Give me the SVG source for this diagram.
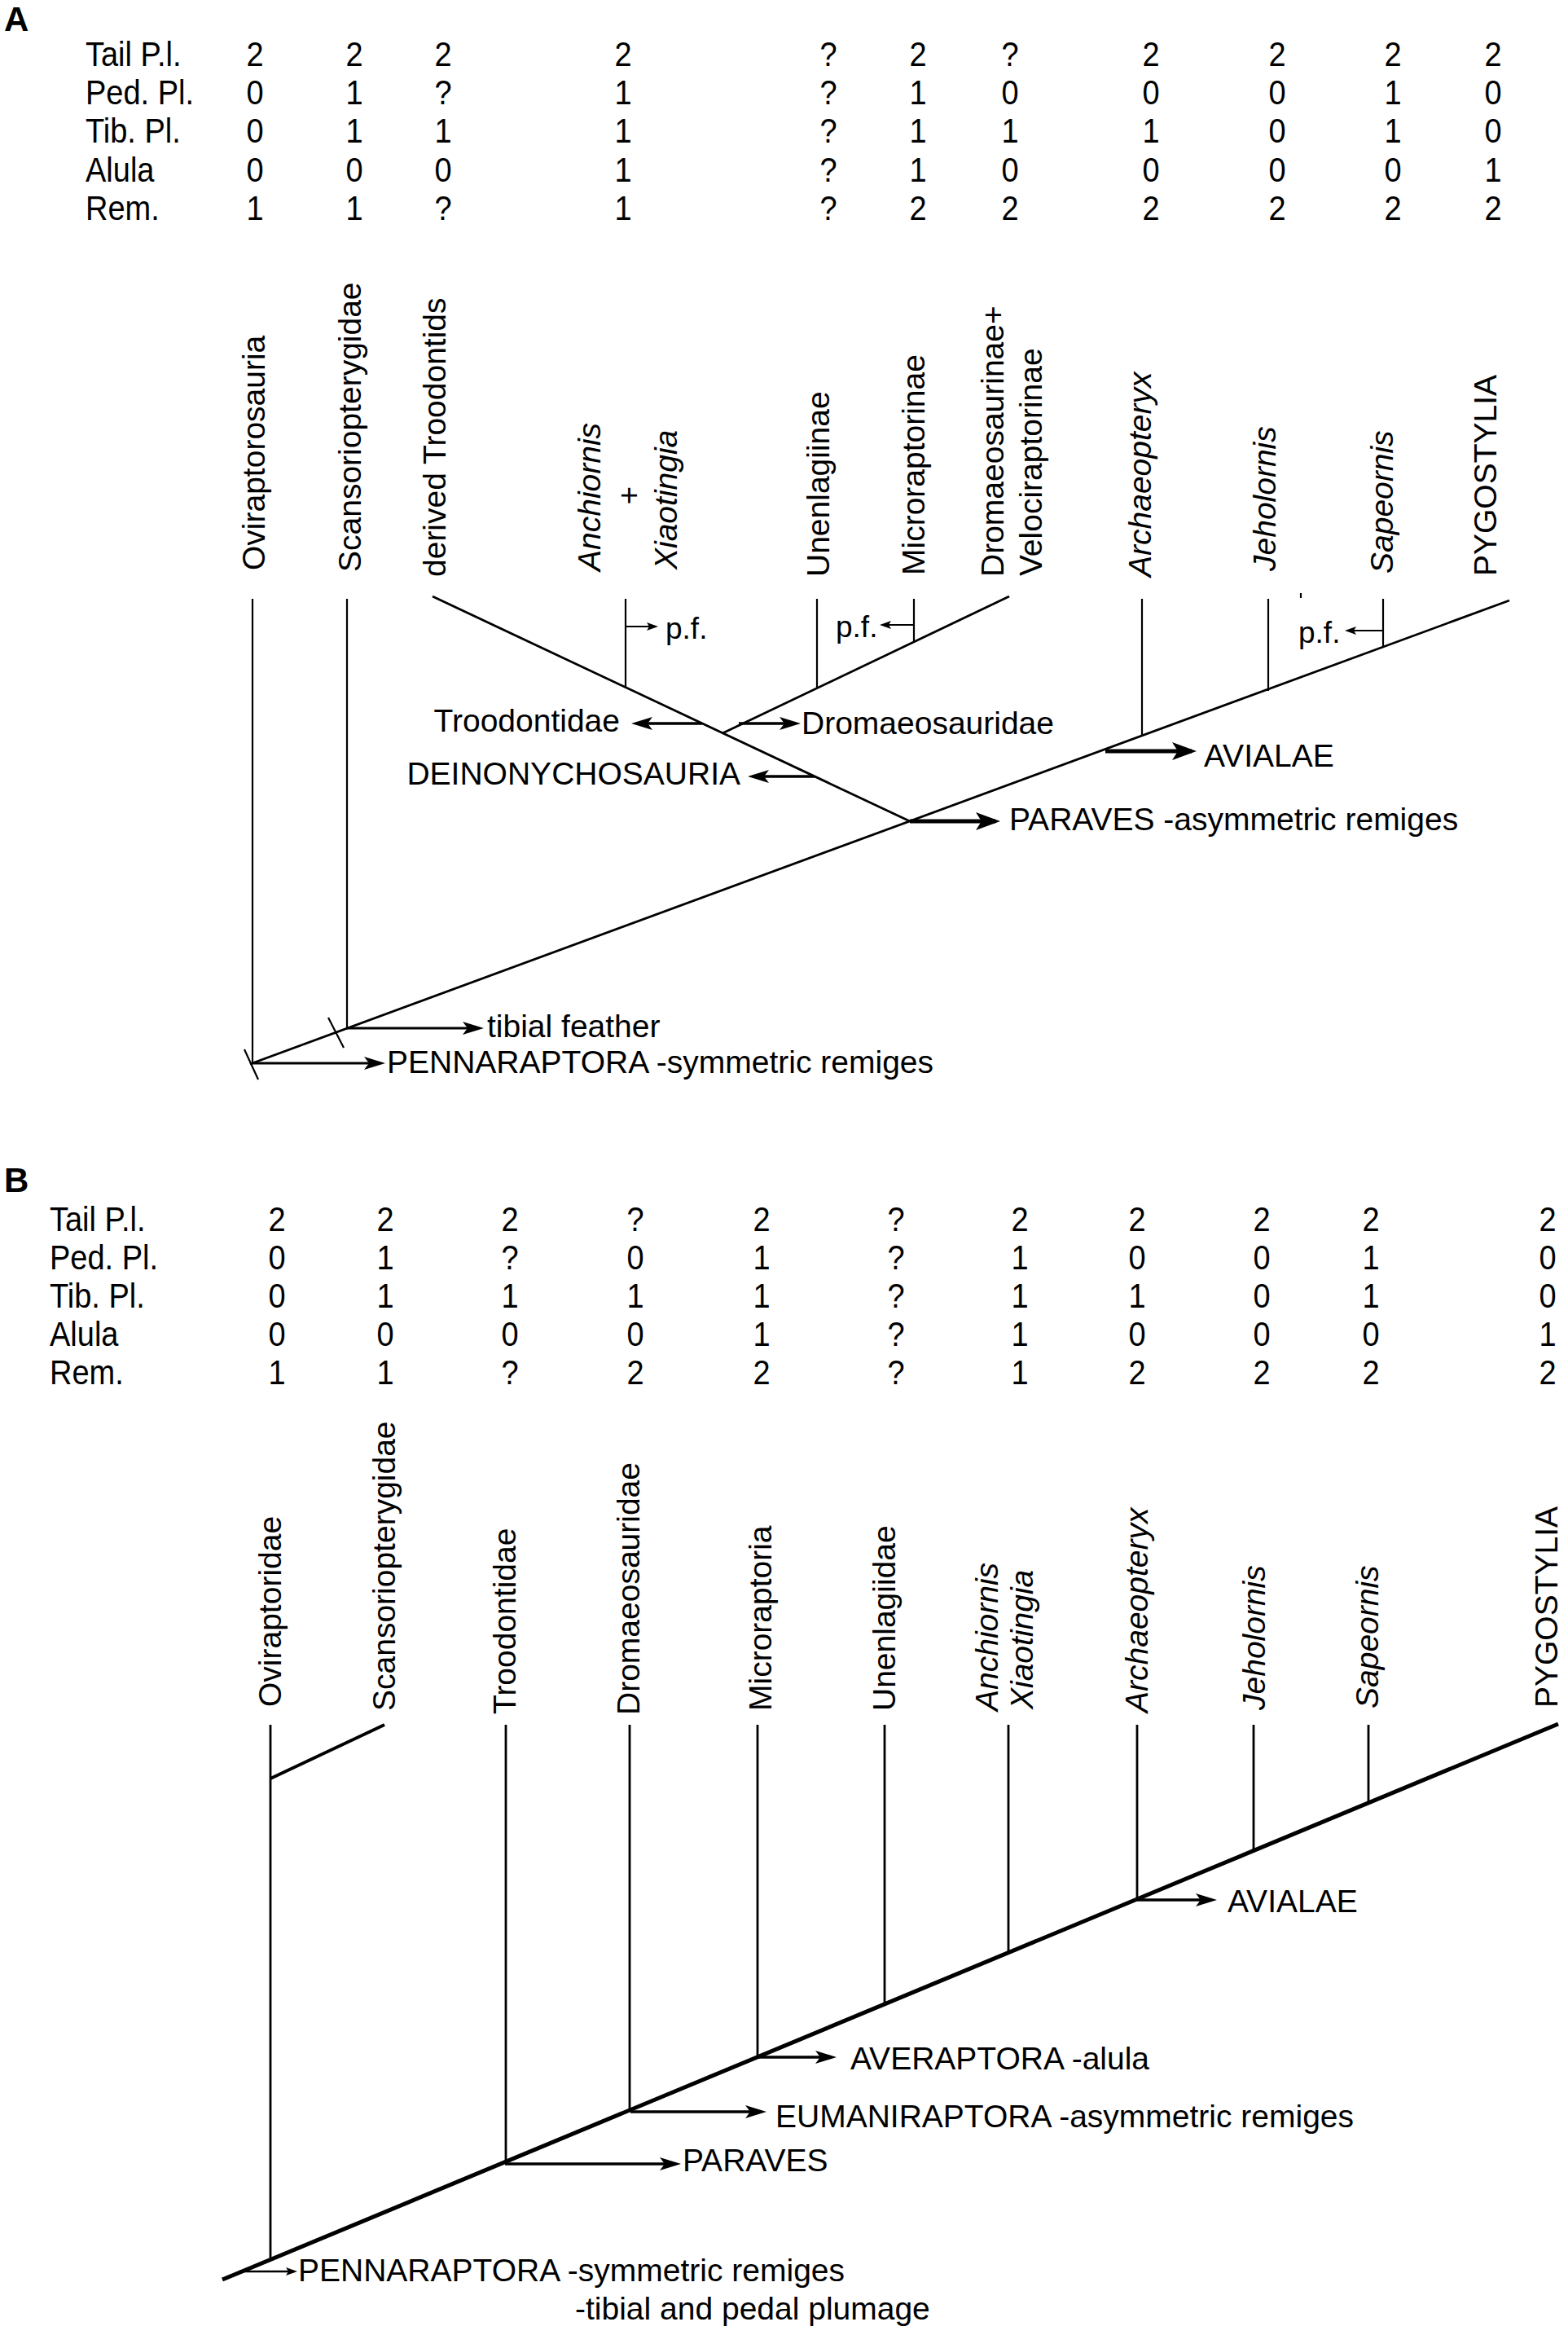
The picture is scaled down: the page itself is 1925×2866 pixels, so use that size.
<svg xmlns="http://www.w3.org/2000/svg" width="1925" height="2866" viewBox="0 0 1925 2866">
<style>
text{font-family:"Liberation Sans",Arial,sans-serif;font-size:39px;fill:#000}
.tb text{font-size:38px}
.dg{text-anchor:middle}
.it{font-style:italic}
.pl{font-weight:bold;font-size:42px}
.pf{font-size:37px}
.ln{stroke:#000;fill:none;stroke-linecap:butt}
.va{stroke-width:2.2}
.da{stroke-width:2.8}
.vb{stroke-width:2.8}
.db{stroke-width:5}
</style>
<defs>
<marker id="ahB" viewBox="0 0 30 22" refX="24" refY="11" markerWidth="30" markerHeight="22" orient="auto" markerUnits="userSpaceOnUse"><path d="M0,0 L30,11 L0,22 L7,11 Z" fill="#000"/></marker>
<marker id="ahM" viewBox="0 0 26 16" refX="20" refY="8" markerWidth="26" markerHeight="16" orient="auto" markerUnits="userSpaceOnUse"><path d="M0,0 L26,8 L0,16 L6,8 Z" fill="#000"/></marker>
<marker id="ahS" viewBox="0 0 14 10" refX="10" refY="5" markerWidth="14" markerHeight="10" orient="auto" markerUnits="userSpaceOnUse"><path d="M0,0 L14,5 L0,10 L3,5 Z" fill="#000"/></marker>
</defs>

<!-- ================= PANEL A ================= -->
<g id="panelA-label"><text class="pl" x="5" y="38">A</text></g>

<g id="tableA" class="tb">
<g transform="translate(0,80.7) scale(1,1.1)"><text x="105" y="0">Tail P.l.</text><text class="dg" x="313 435 544 765 1017 1127 1240 1413 1568 1710 1833" y="0">2222?2?2222</text></g>
<g transform="translate(0,127.5) scale(1,1.1)"><text x="105" y="0">Ped. Pl.</text><text class="dg" x="313 435 544 765 1017 1127 1240 1413 1568 1710 1833" y="0">01?1?100010</text></g>
<g transform="translate(0,175) scale(1,1.1)"><text x="105" y="0">Tib. Pl.</text><text class="dg" x="313 435 544 765 1017 1127 1240 1413 1568 1710 1833" y="0">0111?111010</text></g>
<g transform="translate(0,222.5) scale(1,1.1)"><text x="105" y="0">Alula</text><text class="dg" x="313 435 544 765 1017 1127 1240 1413 1568 1710 1833" y="0">0001?100001</text></g>
<g transform="translate(0,270) scale(1,1.1)"><text x="105" y="0">Rem.</text><text class="dg" x="313 435 544 765 1017 1127 1240 1413 1568 1710 1833" y="0">11?1?222222</text></g>
</g>

<g id="A-Oviraptorosauria"><text transform="translate(325,700) rotate(-90)">Oviraptorosauria</text></g>
<g id="A-Scansoriopterygidae"><text transform="translate(443,702) rotate(-90)">Scansoriopterygidae</text></g>
<g id="A-derivedTroodontids"><text transform="translate(547,708) rotate(-90)">derived Troodontids</text></g>
<g id="A-Anchiornis-Xiaotingia">
<text class="it" transform="translate(737,701) rotate(-90)">Anchiornis</text>
<text class="dg" transform="translate(785,608) rotate(-90)">+</text>
<text class="it" transform="translate(831,699) rotate(-90)">Xiaotingia</text>
</g>
<g id="A-Unenlagiinae"><text transform="translate(1018,708) rotate(-90)">Unenlagiinae</text></g>
<g id="A-Microraptorinae"><text transform="translate(1135,706) rotate(-90)">Microraptorinae</text></g>
<g id="A-Dromaeosaurinae-Velociraptorinae">
<text transform="translate(1232,708) rotate(-90)">Dromaeosaurinae+</text>
<text transform="translate(1279,707) rotate(-90)">Velociraptorinae</text>
</g>
<g id="A-Archaeopteryx"><text class="it" transform="translate(1413,708) rotate(-90)">Archaeopteryx</text></g>
<g id="A-Jeholornis"><text class="it" transform="translate(1566,701) rotate(-90)">Jeholornis</text></g>
<g id="A-Sapeornis"><text class="it" transform="translate(1710,704) rotate(-90)">Sapeornis</text></g>
<g id="A-PYGOSTYLIA"><text transform="translate(1837,707) rotate(-90)">PYGOSTYLIA</text></g>

<g id="A-connectors" class="ln">
<!-- verticals -->
<line class="va" x1="310" y1="735" x2="310" y2="1306"/>
<line class="va" x1="426" y1="735" x2="426" y2="1262"/>
<line class="va" x1="768" y1="735" x2="768" y2="844"/>
<line class="va" x1="1003" y1="735" x2="1003" y2="845"/>
<line class="va" x1="1122" y1="735" x2="1122" y2="788"/>
<line class="va" x1="1402" y1="735" x2="1402" y2="904"/>
<line class="va" x1="1557" y1="735" x2="1557" y2="848"/>
<line class="va" x1="1698" y1="735" x2="1698" y2="795"/>
<line class="va" x1="1597" y1="728" x2="1597" y2="734"/>
<!-- diagonals -->
<line class="da" x1="531" y1="732" x2="1117" y2="1008"/>
<line class="da" x1="1239" y1="732" x2="887" y2="900"/>
<line class="da" x1="307" y1="1306" x2="1853" y2="737"/>
<!-- ticks -->
<line class="va" x1="403" y1="1249" x2="422" y2="1286"/>
<line class="va" x1="300" y1="1288" x2="317" y2="1325"/>
<!-- p.f. arrows -->
<line stroke-width="2.2" x1="768" y1="769" x2="804" y2="769" marker-end="url(#ahS)"/>
<line stroke-width="2.2" x1="1122" y1="767" x2="1084" y2="767" marker-end="url(#ahS)"/>
<line stroke-width="2.2" x1="1698" y1="774" x2="1655" y2="774" marker-end="url(#ahS)"/>
<!-- clade arrows -->
<line stroke-width="3.5" x1="862" y1="888" x2="781" y2="888" marker-end="url(#ahM)"/>
<line stroke-width="3.5" x1="907" y1="888" x2="977" y2="888" marker-end="url(#ahM)"/>
<line stroke-width="3.5" x1="1000" y1="953" x2="924" y2="953" marker-end="url(#ahM)"/>
<line stroke-width="5" x1="1117" y1="1008" x2="1222" y2="1008" marker-end="url(#ahB)"/>
<line stroke-width="5" x1="1357" y1="922" x2="1463" y2="922" marker-end="url(#ahB)"/>
<line stroke-width="3" x1="425" y1="1262" x2="588" y2="1262" marker-end="url(#ahM)"/>
<line stroke-width="3" x1="309" y1="1305" x2="467" y2="1305" marker-end="url(#ahM)"/>
</g>

<g id="A-annotations">
<text class="pf" x="817" y="784">p.f.</text>
<text class="pf" x="1026" y="782">p.f.</text>
<text class="pf" x="1594" y="789">p.f.</text>
<text x="761" y="898" text-anchor="end">Troodontidae</text>
<text x="984" y="901">Dromaeosauridae</text>
<text x="909" y="963" text-anchor="end">DEINONYCHOSAURIA</text>
<text x="1239" y="1019">PARAVES -asymmetric remiges</text>
<text x="1478" y="941">AVIALAE</text>
<text x="598" y="1273">tibial feather</text>
<text x="475" y="1317">PENNARAPTORA -symmetric remiges</text>
</g>

<!-- ================= PANEL B ================= -->
<g id="panelB-label"><text class="pl" x="5" y="1463">B</text></g>

<g id="tableB" class="tb">
<g transform="translate(0,1511) scale(1,1.1)"><text x="61" y="0">Tail P.l.</text><text class="dg" x="340 473 626 780 935 1100 1252 1396 1549 1683 1900" y="0">222?2?22222</text></g>
<g transform="translate(0,1558) scale(1,1.1)"><text x="61" y="0">Ped. Pl.</text><text class="dg" x="340 473 626 780 935 1100 1252 1396 1549 1683 1900" y="0">01?01?10010</text></g>
<g transform="translate(0,1605) scale(1,1.1)"><text x="61" y="0">Tib. Pl.</text><text class="dg" x="340 473 626 780 935 1100 1252 1396 1549 1683 1900" y="0">01111?11010</text></g>
<g transform="translate(0,1652) scale(1,1.1)"><text x="61" y="0">Alula</text><text class="dg" x="340 473 626 780 935 1100 1252 1396 1549 1683 1900" y="0">00001?10001</text></g>
<g transform="translate(0,1699) scale(1,1.1)"><text x="61" y="0">Rem.</text><text class="dg" x="340 473 626 780 935 1100 1252 1396 1549 1683 1900" y="0">11?22?12222</text></g>
</g>

<g id="B-Oviraptoridae"><text transform="translate(345,2095) rotate(-90)">Oviraptoridae</text></g>
<g id="B-Scansoriopterygidae"><text transform="translate(485,2100) rotate(-90)">Scansoriopterygidae</text></g>
<g id="B-Troodontidae"><text transform="translate(633,2104) rotate(-90)">Troodontidae</text></g>
<g id="B-Dromaeosauridae"><text transform="translate(785,2105) rotate(-90)">Dromaeosauridae</text></g>
<g id="B-Microraptoria"><text transform="translate(947,2100) rotate(-90)">Microraptoria</text></g>
<g id="B-Unenlagiidae"><text transform="translate(1099,2100) rotate(-90)">Unenlagiidae</text></g>
<g id="B-Anchiornis-Xiaotingia">
<text class="it" transform="translate(1225,2100) rotate(-90)">Anchiornis</text>
<text class="it" transform="translate(1268,2098) rotate(-90)">Xiaotingia</text>
</g>
<g id="B-Archaeopteryx"><text class="it" transform="translate(1409,2102) rotate(-90)">Archaeopteryx</text></g>
<g id="B-Jeholornis"><text class="it" transform="translate(1553,2099) rotate(-90)">Jeholornis</text></g>
<g id="B-Sapeornis"><text class="it" transform="translate(1692,2097) rotate(-90)">Sapeornis</text></g>
<g id="B-PYGOSTYLIA"><text transform="translate(1912,2096) rotate(-90)">PYGOSTYLIA</text></g>

<g id="B-connectors" class="ln">
<line class="vb" x1="332" y1="2117" x2="332" y2="2774"/>
<line stroke-width="4" x1="472" y1="2117" x2="332" y2="2183"/>
<line class="vb" x1="621" y1="2117" x2="621" y2="2654"/>
<line class="vb" x1="773" y1="2117" x2="773" y2="2591"/>
<line class="vb" x1="930" y1="2117" x2="930" y2="2526"/>
<line class="vb" x1="1086" y1="2117" x2="1086" y2="2461"/>
<line class="vb" x1="1238" y1="2117" x2="1238" y2="2398"/>
<line class="vb" x1="1396" y1="2117" x2="1396" y2="2332"/>
<line class="vb" x1="1539" y1="2117" x2="1539" y2="2272"/>
<line class="vb" x1="1680" y1="2117" x2="1680" y2="2214"/>
<line class="db" x1="273" y1="2798" x2="1913" y2="2116"/>
<line stroke-width="3.5" x1="1396" y1="2332" x2="1488" y2="2332" marker-end="url(#ahM)"/>
<line stroke-width="3.5" x1="930" y1="2525" x2="1021" y2="2525" marker-end="url(#ahM)"/>
<line stroke-width="3.5" x1="774" y1="2592" x2="935" y2="2592" marker-end="url(#ahM)"/>
<line stroke-width="3.5" x1="620" y1="2656" x2="830" y2="2656" marker-end="url(#ahM)"/>
<line stroke-width="2.5" x1="294" y1="2788" x2="361" y2="2788" marker-end="url(#ahS)"/>
</g>

<g id="B-annotations">
<text x="1507" y="2347">AVIALAE</text>
<text x="1044" y="2540">AVERAPTORA -alula</text>
<text x="952" y="2611">EUMANIRAPTORA -asymmetric remiges</text>
<text x="838" y="2665">PARAVES</text>
<text x="366" y="2800">PENNARAPTORA -symmetric remiges</text>
<text x="706" y="2847">-tibial and pedal plumage</text>
</g>
</svg>
